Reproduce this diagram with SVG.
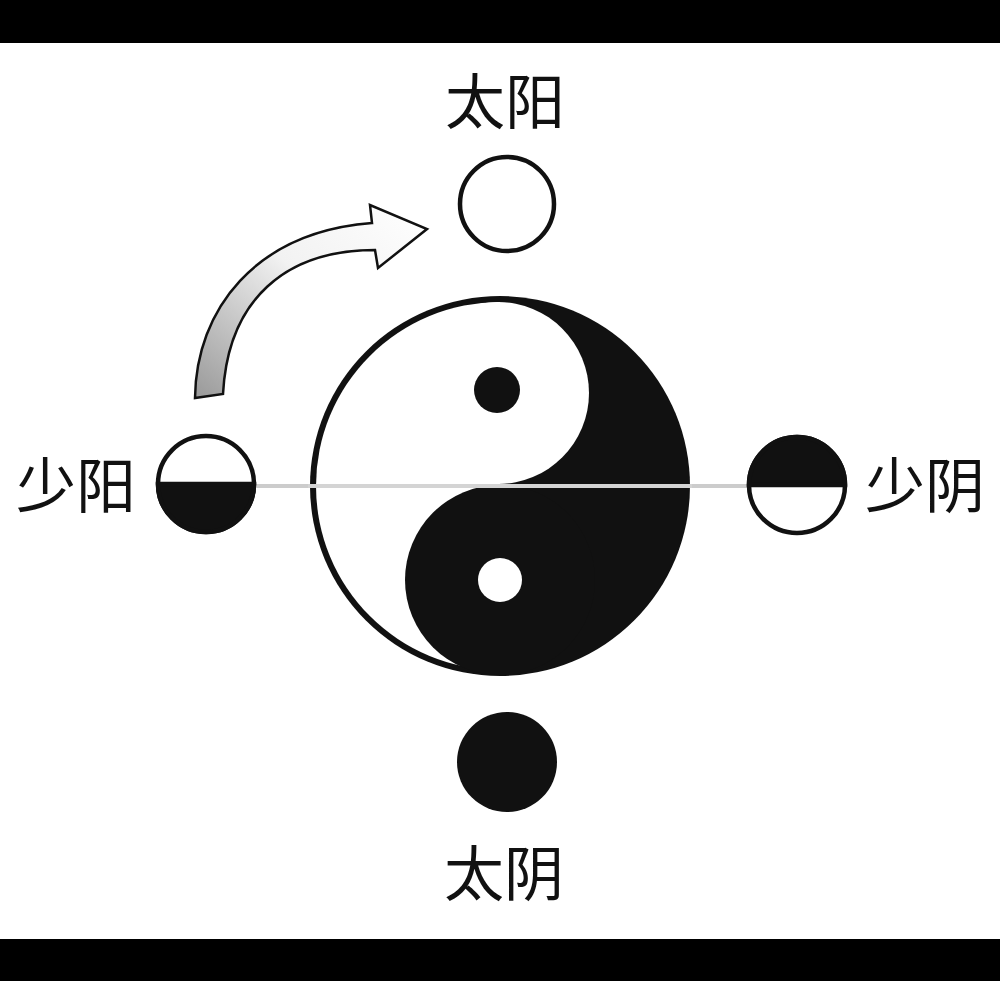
<svg xmlns="http://www.w3.org/2000/svg" width="1000" height="981" viewBox="0 0 1000 981">
  <defs>
    <linearGradient id="arrowGrad" x1="0" y1="1" x2="1" y2="0">
      <stop offset="0" stop-color="#999999"/>
      <stop offset="0.55" stop-color="#f2f2f2"/>
      <stop offset="1" stop-color="#ffffff"/>
    </linearGradient>
    <style>
      .lbl { font-family: "Noto Sans CJK SC", "Noto Sans", sans-serif; font-size: 60px; fill: #111; text-anchor: middle; }
      .ring { fill: #fff; stroke: #111; stroke-width: 4.5; }
      .solid { fill: #111; }
    </style>
  </defs>
  <rect x="0" y="0" width="1000" height="981" fill="#ffffff"/>
  <rect x="0" y="0" width="1000" height="43" fill="#000"/>
  <rect x="0" y="939" width="1000" height="42" fill="#000"/>

  <g id="connectors">
    <line x1="255" y1="486" x2="750" y2="486" stroke="#cccccc" stroke-width="4"/>
    <path id="arrow" d="M 195 398 C 196 310, 255 232, 372 223 L 370 205 L 427 229 L 378 268 L 375 250 C 285 250, 228 300, 223 394 Z" fill="url(#arrowGrad)" stroke="#111" stroke-width="2.5" stroke-linejoin="miter"/>
  </g>

  <g id="taiji">
    <circle cx="500" cy="486" r="190" fill="#111"/>
    <path d="M 500 302 A 184 184 0 0 0 500 670 Z" fill="#fff"/>
    <circle cx="498" cy="393" r="91" fill="#fff"/>
    <circle cx="500" cy="580" r="95" fill="#111"/>
    <circle cx="497" cy="390" r="23" fill="#111"/>
    <circle cx="500" cy="580" r="22" fill="#fff"/>
    <line x1="308" y1="486" x2="692" y2="486" stroke="#d4d4d4" stroke-width="4"/>
  </g>

  <g id="taiyang">
    <circle class="ring" cx="507" cy="204" r="47"/>
    <text class="lbl" x="505" y="124">太阳</text>
  </g>

  <g id="taiyin">
    <circle class="solid" cx="507" cy="762" r="50"/>
    <text class="lbl" x="504" y="896">太阴</text>
  </g>

  <g id="shaoyang">
    <circle class="ring" cx="206" cy="484" r="48"/>
    <path d="M 158 484 A 48 48 0 0 0 254 484 Z" class="solid" stroke="#111" stroke-width="4.5"/>
    <text class="lbl" x="76" y="508">少阳</text>
  </g>

  <g id="shaoyin">
    <circle class="ring" cx="797" cy="485" r="48"/>
    <path d="M 749 485 A 48 48 0 0 1 845 485 Z" class="solid" stroke="#111" stroke-width="4.5"/>
    <text class="lbl" x="925" y="508">少阴</text>
  </g>
</svg>
